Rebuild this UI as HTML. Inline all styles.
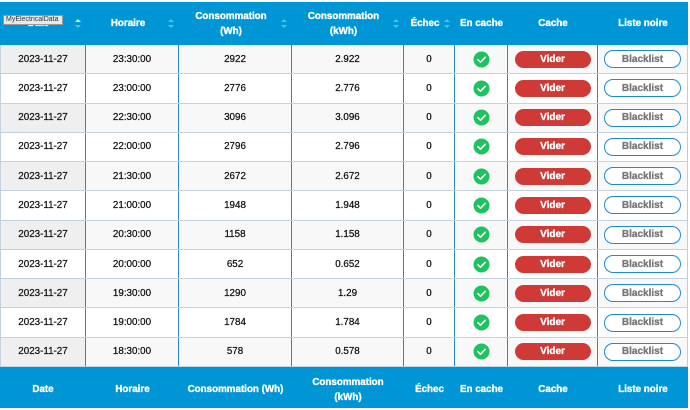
<!DOCTYPE html>
<html><head><meta charset="utf-8">
<style>
*{box-sizing:border-box;margin:0;padding:0}
html,body{width:690px;height:410px;background:#fff;overflow:hidden;font-family:"Liberation Sans",Arial,sans-serif}
.hdr,.ftr{position:absolute;left:0;width:688px;background:#0096d6;display:flex;color:#fff;font-weight:bold;font-size:9.8px;line-height:15px;-webkit-text-stroke:0.35px #fff}
.hdr{top:2px;height:43px}
.ftr{top:367px;height:41px;padding-top:4px}
.hdr>div,.ftr>div{position:relative;display:flex;align-items:center;justify-content:center;text-align:center;height:100%}
.hdr .s{padding-right:9px}
.arr{position:absolute;right:5px;top:17px;width:6px;height:10px}
.arr:before,.arr:after{content:"";position:absolute;left:0;border-left:3px solid transparent;border-right:3px solid transparent}
.arr:before{top:0;border-bottom:3.5px solid rgba(255,255,255,.35)}
.arr:after{top:6px;border-top:3.5px solid rgba(255,255,255,.35)}
.arr.on:before{border-bottom-color:rgba(255,255,255,.85)}
.row{position:absolute;left:0;width:688px;height:29.27px;display:flex;font-size:9.8px;color:#111;border-bottom:1px solid #c3d2dd;-webkit-text-stroke:0.25px #111}
.row.o{background:#f8f8f8}
.row.e{background:#fff}
.row>div{height:100%;display:flex;align-items:center;justify-content:center;border-right:1.5px solid #2c87c5}
.row>div:last-child{border-right:1px solid #b9cfdd}
.row>div:first-child{border-left:1px solid #c3d2dd}
.row.o>div:first-child{background:#efefef}
.c0{width:86px}.c1{width:93px}.c2{width:113px}.c3{width:112px}.c4{width:51px}.c5{width:53px}.c6{width:90px}.c7{width:90px}
.vid{width:76px;height:17px;border-radius:9px;background:#cf3a37;color:#fff;font-weight:bold;font-size:10px;display:flex;align-items:center;justify-content:center;-webkit-text-stroke:0.35px #fff}
.bl{width:77px;height:18px;border-radius:9px;border:1.5px solid #1e8ad6;background:#fff;color:#777;font-weight:bold;font-size:10px;display:flex;align-items:center;justify-content:center;-webkit-text-stroke:0.3px #777}
.tip{position:absolute;left:3px;top:15px;width:60px;height:10px;background:#e9e9e9;border:1px solid #9a9a9a;font-size:7px;line-height:8px;color:#333;padding-left:2px;font-weight:normal;text-align:left;white-space:nowrap;overflow:hidden;z-index:3;-webkit-text-stroke:0}
</style></head><body>

<div class="hdr">
 <div class="c0 s"><span style="opacity:.9">Date</span><i class="arr on"></i></div>
 <div class="c1 s">Horaire<i class="arr"></i></div>
 <div class="c2 s">Consommation<br>(Wh)<i class="arr"></i></div>
 <div class="c3 s">Consommation<br>(kWh)<i class="arr"></i></div>
 <div class="c4 s">Échec<i class="arr"></i></div>
 <div class="c5">En cache</div>
 <div class="c6">Cache</div>
 <div class="c7">Liste noire</div>
</div>
<div class="tip">MyElectricalData</div>

<div class="row o" style="top:45px"><div class="c0">2023-11-27</div><div class="c1">23:30:00</div><div class="c2">2922</div><div class="c3">2.922</div><div class="c4">0</div><div class="c5"><svg width="17" height="17" viewBox="-8.5 -8.5 17 17"><circle r="8" fill="#1ec25f"/><polyline points="-3.6,0.2 -1,2.7 3.7,-2.2" fill="none" stroke="#fff" stroke-width="1.6" stroke-linecap="round" stroke-linejoin="round"/></svg></div><div class="c6"><span class="vid">Vider</span></div><div class="c7"><span class="bl">Blacklist</span></div></div>
<div class="row e" style="top:74.27px"><div class="c0">2023-11-27</div><div class="c1">23:00:00</div><div class="c2">2776</div><div class="c3">2.776</div><div class="c4">0</div><div class="c5"><svg width="17" height="17" viewBox="-8.5 -8.5 17 17"><circle r="8" fill="#1ec25f"/><polyline points="-3.6,0.2 -1,2.7 3.7,-2.2" fill="none" stroke="#fff" stroke-width="1.6" stroke-linecap="round" stroke-linejoin="round"/></svg></div><div class="c6"><span class="vid">Vider</span></div><div class="c7"><span class="bl">Blacklist</span></div></div>
<div class="row o" style="top:103.54px"><div class="c0">2023-11-27</div><div class="c1">22:30:00</div><div class="c2">3096</div><div class="c3">3.096</div><div class="c4">0</div><div class="c5"><svg width="17" height="17" viewBox="-8.5 -8.5 17 17"><circle r="8" fill="#1ec25f"/><polyline points="-3.6,0.2 -1,2.7 3.7,-2.2" fill="none" stroke="#fff" stroke-width="1.6" stroke-linecap="round" stroke-linejoin="round"/></svg></div><div class="c6"><span class="vid">Vider</span></div><div class="c7"><span class="bl">Blacklist</span></div></div>
<div class="row e" style="top:132.81px"><div class="c0">2023-11-27</div><div class="c1">22:00:00</div><div class="c2">2796</div><div class="c3">2.796</div><div class="c4">0</div><div class="c5"><svg width="17" height="17" viewBox="-8.5 -8.5 17 17"><circle r="8" fill="#1ec25f"/><polyline points="-3.6,0.2 -1,2.7 3.7,-2.2" fill="none" stroke="#fff" stroke-width="1.6" stroke-linecap="round" stroke-linejoin="round"/></svg></div><div class="c6"><span class="vid">Vider</span></div><div class="c7"><span class="bl">Blacklist</span></div></div>
<div class="row o" style="top:162.08px"><div class="c0">2023-11-27</div><div class="c1">21:30:00</div><div class="c2">2672</div><div class="c3">2.672</div><div class="c4">0</div><div class="c5"><svg width="17" height="17" viewBox="-8.5 -8.5 17 17"><circle r="8" fill="#1ec25f"/><polyline points="-3.6,0.2 -1,2.7 3.7,-2.2" fill="none" stroke="#fff" stroke-width="1.6" stroke-linecap="round" stroke-linejoin="round"/></svg></div><div class="c6"><span class="vid">Vider</span></div><div class="c7"><span class="bl">Blacklist</span></div></div>
<div class="row e" style="top:191.35px"><div class="c0">2023-11-27</div><div class="c1">21:00:00</div><div class="c2">1948</div><div class="c3">1.948</div><div class="c4">0</div><div class="c5"><svg width="17" height="17" viewBox="-8.5 -8.5 17 17"><circle r="8" fill="#1ec25f"/><polyline points="-3.6,0.2 -1,2.7 3.7,-2.2" fill="none" stroke="#fff" stroke-width="1.6" stroke-linecap="round" stroke-linejoin="round"/></svg></div><div class="c6"><span class="vid">Vider</span></div><div class="c7"><span class="bl">Blacklist</span></div></div>
<div class="row o" style="top:220.62px"><div class="c0">2023-11-27</div><div class="c1">20:30:00</div><div class="c2">1158</div><div class="c3">1.158</div><div class="c4">0</div><div class="c5"><svg width="17" height="17" viewBox="-8.5 -8.5 17 17"><circle r="8" fill="#1ec25f"/><polyline points="-3.6,0.2 -1,2.7 3.7,-2.2" fill="none" stroke="#fff" stroke-width="1.6" stroke-linecap="round" stroke-linejoin="round"/></svg></div><div class="c6"><span class="vid">Vider</span></div><div class="c7"><span class="bl">Blacklist</span></div></div>
<div class="row e" style="top:249.89px"><div class="c0">2023-11-27</div><div class="c1">20:00:00</div><div class="c2">652</div><div class="c3">0.652</div><div class="c4">0</div><div class="c5"><svg width="17" height="17" viewBox="-8.5 -8.5 17 17"><circle r="8" fill="#1ec25f"/><polyline points="-3.6,0.2 -1,2.7 3.7,-2.2" fill="none" stroke="#fff" stroke-width="1.6" stroke-linecap="round" stroke-linejoin="round"/></svg></div><div class="c6"><span class="vid">Vider</span></div><div class="c7"><span class="bl">Blacklist</span></div></div>
<div class="row o" style="top:279.16px"><div class="c0">2023-11-27</div><div class="c1">19:30:00</div><div class="c2">1290</div><div class="c3">1.29</div><div class="c4">0</div><div class="c5"><svg width="17" height="17" viewBox="-8.5 -8.5 17 17"><circle r="8" fill="#1ec25f"/><polyline points="-3.6,0.2 -1,2.7 3.7,-2.2" fill="none" stroke="#fff" stroke-width="1.6" stroke-linecap="round" stroke-linejoin="round"/></svg></div><div class="c6"><span class="vid">Vider</span></div><div class="c7"><span class="bl">Blacklist</span></div></div>
<div class="row e" style="top:308.43px"><div class="c0">2023-11-27</div><div class="c1">19:00:00</div><div class="c2">1784</div><div class="c3">1.784</div><div class="c4">0</div><div class="c5"><svg width="17" height="17" viewBox="-8.5 -8.5 17 17"><circle r="8" fill="#1ec25f"/><polyline points="-3.6,0.2 -1,2.7 3.7,-2.2" fill="none" stroke="#fff" stroke-width="1.6" stroke-linecap="round" stroke-linejoin="round"/></svg></div><div class="c6"><span class="vid">Vider</span></div><div class="c7"><span class="bl">Blacklist</span></div></div>
<div class="row o" style="top:337.7px"><div class="c0">2023-11-27</div><div class="c1">18:30:00</div><div class="c2">578</div><div class="c3">0.578</div><div class="c4">0</div><div class="c5"><svg width="17" height="17" viewBox="-8.5 -8.5 17 17"><circle r="8" fill="#1ec25f"/><polyline points="-3.6,0.2 -1,2.7 3.7,-2.2" fill="none" stroke="#fff" stroke-width="1.6" stroke-linecap="round" stroke-linejoin="round"/></svg></div><div class="c6"><span class="vid">Vider</span></div><div class="c7"><span class="bl">Blacklist</span></div></div>

<div class="ftr">
 <div class="c0">Date</div>
 <div class="c1">Horaire</div>
 <div class="c2">Consommation (Wh)</div>
 <div class="c3">Consommation<br>(kWh)</div>
 <div class="c4">Échec</div>
 <div class="c5">En cache</div>
 <div class="c6">Cache</div>
 <div class="c7">Liste noire</div>
</div>
</body></html>
